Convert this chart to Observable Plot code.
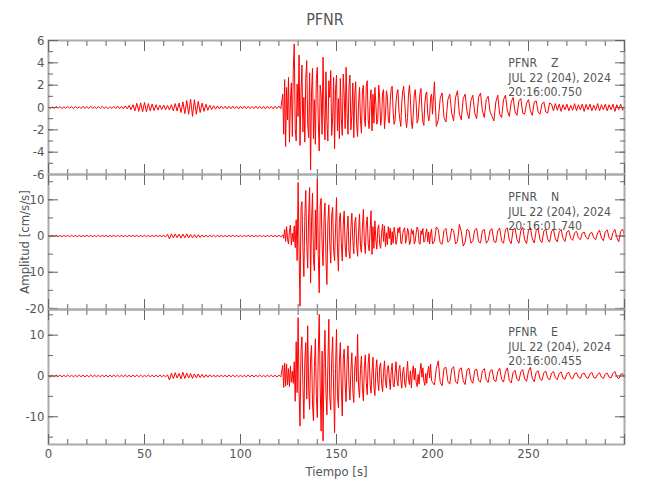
<!DOCTYPE html>
<html><head><meta charset="utf-8">
<script src="https://cdn.jsdelivr.net/npm/d3@7"></script>
<script src="https://cdn.jsdelivr.net/npm/@observablehq/plot@0.6"></script>
<style>
body{margin:0;background:#fff}
#chart{position:relative;width:650px;height:500px;font-family:"Liberation Sans Narrow","DejaVu Sans Condensed",sans-serif;color:#555}
#chart svg{position:absolute;left:0;top:0;overflow:visible}
#title{position:absolute;left:0;top:10px;width:650px;text-align:center;font-size:16px;color:#555}
</style></head><body>
<div id="chart"><div id="title">PFNR</div></div>
<script>
// ---- data: amplitude in cm/s/s ----
// quiet part: one sample per second, t = 0..121 s
// strong part: two samples per second, t = 122..199.5 s
// coda: one sample per second, t = 200..300 s
const station = "PFNR";
const components = ["Z", "N", "E"];
const dateText = "JUL 22 (204), 2024";
const startTimes = ["20:16:00.750", "20:16:01.740", "20:16:00.455"];

const zQuiet = [
0.08,-0.1,0.06,-0.09,0.1,-0.07,0.09,-0.1,0.07,-0.08,
0.1,-0.06,0.08,-0.1,0.09,-0.08,0.07,-0.1,0.1,-0.07,
0.08,-0.09,0.1,-0.08,0.06,-0.1,0.09,-0.07,0.1,-0.09,
0.07,-0.1,0.08,-0.09,0.1,-0.08,0.12,-0.1,0.09,-0.12,
0.14,-0.12,0.18,-0.2,0.25,-0.3,0.38,-0.35,0.42,-0.4,
0.45,-0.38,0.35,-0.3,0.32,-0.28,0.25,-0.22,0.2,-0.18,
0.22,-0.2,0.18,-0.22,0.25,-0.3,0.35,-0.32,0.4,-0.45,
0.5,-0.55,0.62,-0.6,0.75,-0.8,0.7,-0.6,0.55,-0.45,
0.4,-0.35,0.3,-0.25,0.2,-0.18,0.15,-0.15,0.14,-0.12,
0.12,-0.1,0.11,-0.12,0.1,-0.11,0.12,-0.1,0.1,-0.12,
0.11,-0.1,0.12,-0.1,0.1,-0.11,0.09,-0.1,0.12,-0.1,
0.1,-0.11,0.1,-0.12,0.11,-0.1,0.1,-0.12,0.11,-0.1,
0.12,-0.1
];
const zStrong = [
1.2,-2.4, 2.5,-3.5, 1.8,-1.1, 2.7,-3.1, 0.6,2.2, -2.6,3.4,
5.7,-1.9, -3.0,2.1, -0.8,4.7, -3.4,1.2, 3.8,-2.2, 0.9,-3.1,
2.6,4.2, -1.5,-2.7, 3.1,-5.6, 1.4,3.5, -2.8,0.7, -3.3,2.5,
3.6,-1.2, -3.9,2.0, 1.1,-2.4, 4.5,-0.6, -2.9,3.2, -1.3,-3.0,
2.4,0.9, 3.3,-2.5, -0.9,2.7, -3.7,1.6, 2.9,-2.1, 0.8,-2.8,
2.6,-1.0, -2.5,3.0, 1.2,-1.9, 3.6,-0.5, -2.4,1.8, 2.9,-2.0,
-0.7,2.2, -2.7,1.1, 2.3,-1.6, -2.6,0.4, 1.8,-1.2, -2.3,1.5,
2.0,-0.8, -1.7,1.9, 2.4,-1.1, -1.9,0.6, 1.6,-2.1, 1.2,-1.4,
1.8,0.3, -1.5,-1.1, 2.0,0.8, -1.6,-0.9, 1.3,1.6, -1.9,-0.7,
1.5,1.0, -1.2,-1.4, 0.6,1.7, 1.9,-0.4, -1.5,-1.2, 0.5,1.3,
1.6,-0.3, -1.1,-1.7, 0.4,1.5, 1.9,0.6, -1.0,-1.8, -0.9,1.2,
2.0,0.8, -1.3,-1.9, -0.5,1.1, 1.6,0.4, -1.4,-1.1, 0.2,1.3,
1.7,-0.2, -1.3,-1.6, 0.3,1.2, 1.4,-0.5, -1.2,-0.8, 0.9,1.2
];
const zCoda = [
-0.6,2.3,-1.7,-1.1,0.8,1.3,-0.9,-1.3,0.7,1.2,
-0.5,-1.2,0.9,1.5,-0.6,-1.1,0.8,1.2,-0.4,-1.0,
0.6,1.1,-0.5,-1.0,0.9,1.3,-0.3,-0.9,0.7,1.0,
-0.4,-0.8,-1.2,0.5,1.1,-0.6,-0.9,0.7,1.1,-0.3,
-0.8,0.5,0.9,-0.4,-0.7,0.6,0.8,-0.5,-0.6,0.4,
0.7,-0.3,-0.7,0.5,0.6,-0.4,-0.6,0.3,0.5,-0.4,
-0.5,0.4,0.3,-0.3,0.35,-0.25,0.3,-0.35,0.25,-0.2,
0.3,-0.3,0.2,-0.25,0.35,-0.3,0.25,-0.2,0.3,-0.35,
0.28,-0.2,0.3,-0.3,0.2,-0.25,0.35,-0.3,0.25,-0.2,
0.3,-0.3,0.25,-0.2,0.3,-0.35,0.25,-0.2,0.3,-0.25,0.1
];

const nQuiet = [
0.15,-0.2,0.18,-0.15,0.2,-0.18,0.15,-0.2,0.17,-0.15,
0.18,-0.17,0.2,-0.15,0.16,-0.2,0.18,-0.16,0.15,-0.18,
0.2,-0.15,0.17,-0.2,0.15,-0.18,0.2,-0.17,0.16,-0.15,
0.18,-0.2,0.15,-0.17,0.2,-0.16,0.18,-0.15,0.17,-0.2,
0.15,-0.18,0.2,-0.16,0.17,-0.15,0.19,-0.2,0.16,-0.18,
0.2,-0.17,0.15,-0.19,0.18,-0.16,0.2,-0.15,0.17,-0.2,
0.2,-0.25,0.5,-0.8,0.6,-0.5,0.55,-0.45,0.5,-0.6,
0.55,-0.5,0.6,-0.5,0.45,-0.5,0.4,-0.45,0.35,-0.4,
0.3,-0.3,0.25,-0.25,0.2,-0.2,0.2,-0.22,0.2,-0.2,
0.2,-0.18,0.16,-0.2,0.18,-0.15,0.2,-0.17,0.15,-0.19,
0.18,-0.2,0.16,-0.17,0.2,-0.15,0.18,-0.19,0.17,-0.16,
0.2,-0.18,0.15,-0.2,0.17,-0.16,0.19,-0.18,0.16,-0.2,
0.2,-0.2
];
const nStrong = [
0.3,-0.6, 1.8,-1.5, 2.6,-0.9, -2.2,1.4, 3.0,-2.5, 0.8,-1.6,
2.8,-3.2, 4.5,-6.8, 14.8,-4.2, -19.4,7.5, 9.5,-3.1, -11.2,5.4,
12.6,-2.0, -8.9,6.2, 13.4,-13.0, 4.1,11.8, -6.5,-9.6, 7.2,-3.8,
15.7,-5.1, -15.7,8.3, 10.4,-2.6, -8.2,4.9, 9.1,-6.3, -13.4,3.5,
8.6,-2.1, -7.5,5.8, 7.9,-4.0, -6.8,2.2, 10.6,-3.3, -9.7,4.6,
6.4,-1.8, -6.9,3.1, 6.9,-2.7, -5.8,1.5, 5.5,-4.4, -6.2,2.4,
6.3,-1.2, -4.9,3.6, 5.2,-2.5, -5.6,1.1, 6.1,-3.2, -4.5,2.3,
7.4,-1.6, -4.8,3.0, 5.3,-2.2, -4.1,1.4, 7.0,-5.1, 2.6,-3.4,
4.2,-1.1, -3.6,1.9, 3.1,-2.4, -3.4,0.8, 3.3,-1.5, 2.8,-2.9,
0.9,-2.4, 2.6,-0.7, 2.2,-2.5, 1.2,-2.0, 2.4,0.6, -2.3,-1.0,
2.2,0.9, 2.5,-1.9, -2.2,0.7, 1.8,2.3, -2.0,-0.6, 2.1,1.1,
-2.4,-1.8, 2.0,0.5, 1.6,-2.2, -1.4,0.9, 2.5,1.8, -1.9,-2.3,
1.5,0.4, 2.1,-1.7, -1.2,0.8, 2.0,-1.6, 1.1,-2.2, 0.6,1.9
];
const nCoda = [
-2.2,-1.4,2.5,1.8,-1.9,-2.3,1.5,2.1,-1.7,-1.2,
2.0,1.6,-2.2,-1.5,3.2,1.2,-2.8,-1.7,1.9,1.4,
-2.0,-1.3,1.7,2.1,-1.6,-1.9,1.5,1.8,-2.0,-1.2,
1.6,2.0,-1.5,-1.8,1.4,2.2,-1.3,-2.0,1.7,2.3,
-1.2,-2.1,1.8,2.2,-0.9,-2.0,1.5,2.4,-1.0,-2.1,
1.6,2.3,-0.8,-1.9,1.5,2.2,-1.1,-1.8,1.4,2.0,
-0.9,-1.7,1.3,1.9,-0.8,-1.6,1.2,1.8,-0.7,-1.5,
1.1,1.5,-0.6,-1.2,0.9,1.3,-0.5,-1.0,0.8,1.1,
-0.4,-0.9,0.7,1.0,-0.5,-1.0,0.9,1.6,-0.6,-1.3,
1.2,1.7,-0.5,-1.1,0.9,1.8,-0.4,-1.6,1.3,1.9,
0.2
];

const eQuiet = [
0.2,-0.22,0.18,-0.2,0.24,-0.18,0.2,-0.23,0.19,-0.2,
0.22,-0.19,0.2,-0.24,0.18,-0.2,0.23,-0.19,0.2,-0.22,
0.19,-0.2,0.24,-0.18,0.2,-0.22,0.18,-0.21,0.23,-0.2,
0.2,-0.24,0.19,-0.2,0.22,-0.18,0.21,-0.23,0.2,-0.19,
0.24,-0.2,0.18,-0.22,0.2,-0.19,0.23,-0.2,0.21,-0.24,
0.2,-0.18,0.22,-0.2,0.19,-0.23,0.2,-0.21,0.24,-0.2,
0.2,-0.2,0.25,-1.0,0.7,-0.6,0.8,-0.5,0.6,-0.7,
0.9,-0.6,0.7,-0.5,0.6,-0.6,0.5,-0.45,0.5,-0.4,
0.4,-0.35,0.3,-0.3,0.3,-0.25,0.25,-0.3,0.25,-0.25,
0.25,-0.22,0.2,-0.25,0.23,-0.2,0.25,-0.22,0.2,-0.24,
0.22,-0.25,0.2,-0.23,0.25,-0.2,0.22,-0.24,0.21,-0.2,
0.25,-0.22,0.2,-0.25,0.23,-0.2,0.24,-0.22,0.2,-0.25,
0.2,-0.2
];
const eStrong = [
2.6,-2.8, 3.2,-2.5, 2.9,-2.2, 1.8,-2.6, 2.4,-1.5, 1.2,-1.8,
3.5,-6.2, 8.4,-4.1, 14.3,-3.8, -12.3,6.0, 9.6,-2.4, -10.5,3.7,
8.2,-5.6, 12.3,-3.0, -8.2,4.4, 7.5,-6.9, -11.0,2.1, 9.1,-4.8,
-10.2,5.5, 15.1,-2.7, -13.5,6.1, -15.9,3.3, 11.2,-4.0, -9.5,2.6,
13.9,-5.2, -8.3,4.1, 9.6,-3.4, -13.9,1.8, 11.4,-4.7, -7.8,3.2,
8.2,-2.5, -9.8,4.0, 6.6,-1.9, -6.3,3.1, 7.4,-2.2, -5.9,1.5,
5.7,-3.6, -6.5,2.0, 4.8,-1.4, 10.2,-2.9, -5.3,1.8, 4.9,-3.0,
-6.1,2.2, 5.2,-1.6, -4.6,3.1, 5.5,-2.0, -4.2,1.2, 4.6,-2.7,
-4.8,1.5, 4.0,-1.2, -3.6,2.4, 3.2,-1.9, -3.8,0.9, 3.7,-1.4,
-2.9,1.8, 2.6,-0.6, -3.3,1.3, 3.1,-2.1, -2.7,0.8, 3.5,-1.0,
-2.4,1.6, 2.6,-0.9, -3.0,1.1, 2.2,-1.7, -2.8,0.5, 3.6,-0.8,
-2.1,1.3, -2.9,0.7, 2.5,-1.0, 1.9,-1.6, -2.6,0.4, -2.0,1.2,
3.1,-0.3, 2.0,-1.3, -2.3,0.6, -1.8,1.0, 2.4,-0.5, 2.9,-1.1
];
const eCoda = [
-1.6,-2.2,1.8,3.7,-1.5,-2.4,1.9,2.1,-1.3,-2.0,
1.7,2.3,-1.4,-1.9,1.6,2.0,-1.2,-2.1,1.5,1.9,
-1.0,-1.8,1.4,1.7,-1.1,-1.5,1.3,1.8,-0.9,-1.6,
1.2,1.6,-1.0,-1.4,1.1,1.9,-0.8,-1.5,1.0,2.0,
-1.1,-1.7,0.9,1.4,-0.8,-1.2,1.0,1.6,-0.7,-1.3,
1.2,2.1,-0.6,-1.4,0.9,1.3,-0.7,-1.1,0.8,1.2,
-0.5,-1.0,0.7,1.1,-0.4,-0.9,0.6,1.0,-0.5,-0.8,
0.6,0.9,-0.4,-0.7,0.5,0.8,-0.3,-0.6,0.5,0.7,
-0.3,-0.6,0.5,0.9,-0.4,-0.5,0.4,0.8,-0.3,-0.6,
0.5,0.7,-0.3,-0.5,0.6,1.1,-0.2,-0.7,0.4,0.6,
-0.3
];

// axis ticks
const xMinor = [0,10,20,30,40,50,60,70,80,90,100,110,120,130,140,150,160,170,180,190,200,210,220,230,240,250,260,270,280,290,300];
const xMajor = [0,50,100,150,200,250,300];
const xLabels = [0,50,100,150,200,250];
const zMinor = [-6,-5,-4,-3,-2,-1,0,1,2,3,4,5,6];
const zMajor = [-6,-4,-2,0,2,4,6];
const nMinor = [-20,-15,-10,-5,0,5,10,15];
const nMajor = [-20,-10,0,10];
const eMinor = [-15,-10,-5,0,5,10,15];
const eMajor = [-10,0,10];

// sample times (s) for quiet / strong / coda segments
const sampleTimes = (q, s, c) => [
  ...q.map((_, i) => i),
  ...s.map((_, i) => q.length + i * 0.5),
  ...c.map((_, i) => q.length + s.length * 0.5 + i)
];

const panels = [
  {vals: [...zQuiet, ...zStrong, ...zCoda], t: sampleTimes(zQuiet, zStrong, zCoda), dom: [-6, 6], minor: zMinor, major: zMajor, top: 40, bottom: 174, i: 0},
  {vals: [...nQuiet, ...nStrong, ...nCoda], t: sampleTimes(nQuiet, nStrong, nCoda), dom: [-20.3, 17], minor: nMinor, major: nMajor, top: 174, bottom: 309, i: 1},
  {vals: [...eQuiet, ...eStrong, ...eCoda], t: sampleTimes(eQuiet, eStrong, eCoda), dom: [-16.8, 16.3], minor: eMinor, major: eMajor, top: 309, bottom: 444, i: 2}
];

const W = 650, H = 500;
const font = '"Liberation Sans Narrow","DejaVu Sans Condensed",sans-serif';
const chart = document.getElementById("chart");

for (const p of panels) {
  const note = `${station}\u00a0\u00a0\u00a0\u00a0${components[p.i]}\n${dateText}\n${startTimes[p.i]}`;
  const tick = (data, anchor, size) => (anchor === "top" || anchor === "bottom")
    ? Plot.axisX(data, {anchor, tickSize: -size, tickFormat: () => "", label: null, stroke: "#666"})
    : Plot.axisY(data, {anchor, tickSize: -size, tickFormat: () => "", label: null, stroke: "#666"});
  const marks = [
    Plot.line(p.vals, {x: p.t, y: p.vals, stroke: "#ff0000", strokeWidth: 1, clip: true}),
    Plot.frame({stroke: "#aaa", strokeWidth: 2}),
    tick(xMinor, "bottom", 5), tick(xMinor, "top", 5),
    tick(xMajor, "bottom", 10), tick(xMajor, "top", 10),
    tick(p.minor, "left", 5), tick(p.minor, "right", 5),
    tick(p.major, "left", 10), tick(p.major, "right", 10),
    Plot.axisY(p.major, {anchor: "left", tickSize: 0, tickPadding: 4, tickFormat: d => String(d), label: null, fontSize: 13}),
    Plot.text([note], {x: () => 239.5, frameAnchor: "top", dy: 16, lineAnchor: "top", textAnchor: "start", lineHeight: 1.2, fontSize: 12.2, fill: "#555"})
  ];
  if (p.i === 1) {
    marks.push(Plot.text(["Amplitud [cm/s/s]"], {frameAnchor: "left", dx: -24, rotate: -90, textAnchor: "middle", lineAnchor: "middle", fontSize: 13, fill: "#555"}));
  }
  if (p.i === 2) {
    marks.push(Plot.axisX(xLabels, {anchor: "bottom", tickSize: 0, tickPadding: 4, tickFormat: d => String(d), label: null, fontSize: 13}));
    marks.push(Plot.text(["Tiempo [s]"], {frameAnchor: "bottom", dy: 27, textAnchor: "middle", lineAnchor: "middle", fontSize: 13, fill: "#555"}));
  }
  const svg = Plot.plot({
    width: W, height: H,
    marginLeft: 48, marginRight: 26, marginTop: p.top, marginBottom: H - p.bottom,
    x: {domain: [0, 300]},
    y: {domain: p.dom},
    style: {fontFamily: font, fontSize: "13px", color: "#555", background: "transparent", overflow: "visible"},
    marks
  });
  chart.appendChild(svg);
}
</script>
</body></html>
